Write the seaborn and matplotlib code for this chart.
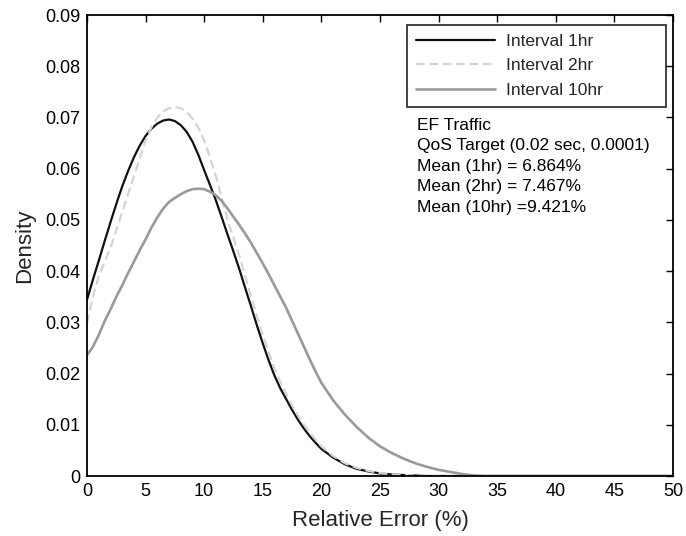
import matplotlib
matplotlib.use("Agg")
import matplotlib.pyplot as plt
import seaborn as sns
import pandas as pd

sns.set_theme(style="white")
plt.rcParams['font.family'] = ['Liberation Sans', 'DejaVu Sans']

# ---- data ----
rel_error = [0, 0.5, 1, 1.5, 2, 2.5, 3, 3.5, 4, 4.5, 5, 5.5, 6, 6.5, 7, 7.5, 8, 8.5, 9, 9.5,
             10, 10.5, 11, 11.5, 12, 12.5, 13, 13.5, 14, 14.5, 15, 15.5, 16, 16.5, 17, 17.5,
             18, 18.5, 19, 19.5, 20,
             21, 22, 23, 24, 25, 26, 27, 28, 29, 30, 31, 32, 33, 34,
             50]

density_1hr = [0.0344, 0.0383, 0.0420, 0.0458, 0.0495, 0.0531, 0.0565, 0.0595, 0.0622, 0.0645,
               0.0664, 0.0678, 0.0688, 0.0694, 0.0696, 0.0693, 0.0685, 0.0672, 0.0653, 0.0627,
               0.0597, 0.0568, 0.0538, 0.0505, 0.0471, 0.0438, 0.0404, 0.0367, 0.0331, 0.0294,
               0.0259, 0.0226, 0.0196, 0.0171, 0.0150, 0.0129, 0.0110, 0.0093, 0.0078, 0.0065,
               0.0053,
               0.0036, 0.0023, 0.0014, 0.0009, 0.0005, 0.0003, 0.0002, 0.0001, 0.0, 0.0,
               0.0, 0.0, 0.0, 0.0,
               0.0]

density_2hr = [0.0298, 0.0350, 0.0390, 0.0418, 0.0445, 0.0480, 0.0515, 0.0550, 0.0585, 0.0620,
               0.0655, 0.0681, 0.0700, 0.0712, 0.0718, 0.0720, 0.0718, 0.0711, 0.0698, 0.0680,
               0.0655, 0.0622, 0.0585, 0.0543, 0.0500, 0.0465, 0.0430, 0.0390, 0.0350, 0.0312,
               0.0275, 0.0242, 0.0210, 0.0184, 0.0160, 0.0138, 0.0118, 0.0101, 0.0085, 0.0071,
               0.0058,
               0.0039, 0.0025, 0.0016, 0.0010, 0.0006, 0.0003, 0.0002, 0.0001, 0.0, 0.0,
               0.0, 0.0, 0.0, 0.0,
               0.0]

density_10hr = [0.0236, 0.0252, 0.0275, 0.0302, 0.0325, 0.0350, 0.0372, 0.0396, 0.0418, 0.0441,
                0.0462, 0.0485, 0.0505, 0.0522, 0.0535, 0.0543, 0.0550, 0.0556, 0.0560, 0.0561,
                0.0560, 0.0555, 0.0548, 0.0537, 0.0522, 0.0506, 0.0490, 0.0473, 0.0455, 0.0435,
                0.0415, 0.0394, 0.0372, 0.0350, 0.0328, 0.0303, 0.0278, 0.0253, 0.0228, 0.0204,
                0.0182,
                0.0148, 0.0120, 0.0096, 0.0075, 0.0058, 0.0045, 0.0034, 0.0025, 0.0018, 0.0012,
                0.0008, 0.0004, 0.0001, 0.0,
                0.0]

series_labels = ["Interval 1hr", "Interval 2hr", "Interval 10hr"]
x_ticks = [0, 5, 10, 15, 20, 25, 30, 35, 40, 45, 50]
y_ticks = [0, 0.01, 0.02, 0.03, 0.04, 0.05, 0.06, 0.07, 0.08, 0.09]
y_tick_labels = ["0", "0.01", "0.02", "0.03", "0.04", "0.05", "0.06", "0.07", "0.08", "0.09"]
info_lines = ["EF Traffic", "QoS Target (0.02 sec, 0.0001)", "Mean (1hr) = 6.864%",
              "Mean (2hr) = 7.467%", "Mean (10hr) =9.421%"]

# ---- figure ----
fig = plt.figure(figsize=(6.86, 5.36), dpi=100)
ax = fig.add_axes([0.1268, 0.1119, 0.8542, 0.8601])

styles = [
    dict(color="#111111", linewidth=1.6, linestyle="-"),
    dict(color="#d4d4d4", linewidth=1.6, linestyle=(0, (4, 2))),
    dict(color="#9a9a9a", linewidth=1.9, linestyle="-"),
]
for vals, lab, st in zip([density_1hr, density_2hr, density_10hr], series_labels, styles):
    df = pd.DataFrame({"x": rel_error, "y": vals})
    sns.lineplot(data=df, x="x", y="y", ax=ax, label=lab, **st)

ax.set_xlim(0, 50)
ax.set_ylim(0, 0.09)
ax.set_xticks(x_ticks)
ax.set_xticklabels([str(t) for t in x_ticks])
ax.set_yticks(y_ticks)
ax.set_yticklabels(y_tick_labels)
ax.set_xlabel("Relative Error (%)", fontsize=16, labelpad=7)
ax.set_ylabel("Density", fontsize=16, labelpad=7)

ax.tick_params(axis="both", which="both", direction="in", length=5, width=1,
               top=True, right=True, labelsize=13, colors="black", pad=5)
for sp in ax.spines.values():
    sp.set_visible(True)
    sp.set_color("black")
    sp.set_linewidth(1.3)

leg = ax.legend(loc="upper left", bbox_to_anchor=(0.546, 0.805, 0.442, 0.1735),
                mode="expand", fontsize=12.5, frameon=True, fancybox=False,
                edgecolor="black", handlelength=4.6, borderpad=0.5,
                labelspacing=0.55, handletextpad=0.6, borderaxespad=0.0)
leg.get_frame().set_linewidth(1.3)

y0 = 0.761
for i, line in enumerate(info_lines):
    ax.text(0.563, y0 - i * 0.0445, line, transform=ax.transAxes,
            fontsize=12.5, va="center", ha="left", color="black")

fig.savefig("out.png", dpi=100)
